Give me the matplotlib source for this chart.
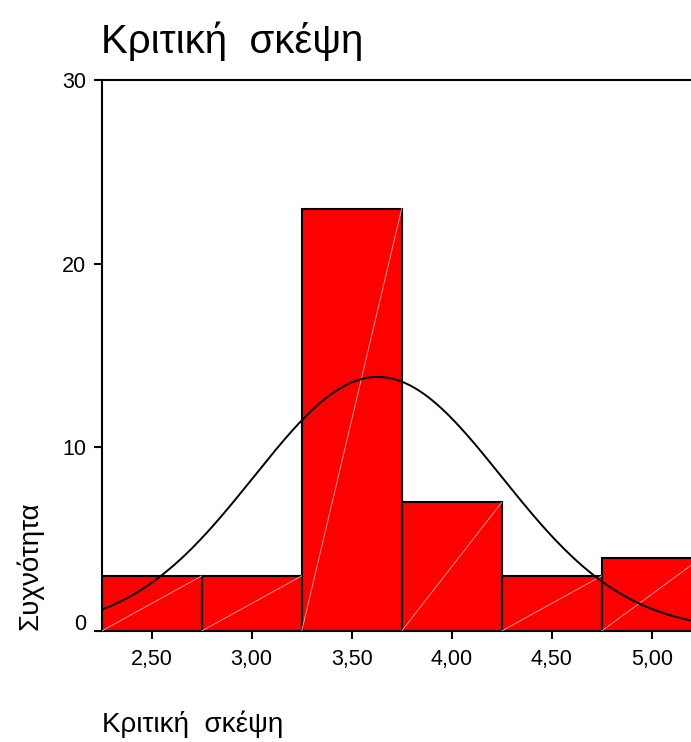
import numpy as np
import matplotlib
matplotlib.use("Agg")
import matplotlib.pyplot as plt
import matplotlib.transforms as mtransforms

plt.rcParams['font.family'] = ['Liberation Sans', 'DejaVu Sans']

# histogram of scores, bin width 0.5
bin_centers = [2.50, 3.00, 3.50, 4.00, 4.50, 5.00]
counts = [3, 3, 23, 7, 3, 4]
bin_width = 0.5

# normal curve parameters
mean_score = 3.63
std_score = 0.62
n_total = sum(counts)

x_ticks = [2.50, 3.00, 3.50, 4.00, 4.50, 5.00]
x_tick_labels = ["2,50", "3,00", "3,50", "4,00", "4,50", "5,00"]
y_ticks = [0, 10, 20, 30]

fig = plt.figure(figsize=(6.91, 7.42), dpi=100)
ax = fig.add_axes([0.1472, 0.1496, 0.8683, 0.7426])

ax.bar(bin_centers, counts, width=bin_width, color="#ff0000",
       edgecolor="black", linewidth=1.5, zorder=2)

# faint diagonal in each bar, corner to corner
for c, h in zip(bin_centers, counts):
    ax.plot([c - bin_width / 2, c + bin_width / 2], [0, h],
            color="#ffb0b0", linewidth=0.6, zorder=3)

xs = np.linspace(2.25, 5.25, 400)
ys = n_total * bin_width / (std_score * np.sqrt(2 * np.pi)) * \
    np.exp(-0.5 * ((xs - mean_score) / std_score) ** 2)
ax.plot(xs, ys, color="black", linewidth=1.4, zorder=4)

ax.set_xlim(2.25, 5.25)
ax.set_ylim(0, 30)
ax.set_xticks(x_ticks)
ax.set_xticklabels(x_tick_labels)
ax.set_yticks(y_ticks)

for side in ["left", "top", "bottom"]:
    ax.spines[side].set_linewidth(1.5)
ax.spines["right"].set_visible(False)

ax.tick_params(axis="both", direction="out", length=6, width=1.5, labelsize=15.5)
ax.tick_params(axis="x", pad=7)
ax.tick_params(axis="y", pad=5)

# nudge the zero label up a little
zero_label = ax.get_yticklabels()[0]
zero_label.set_transform(zero_label.get_transform() +
                         mtransforms.ScaledTranslation(0, 9 / 100, fig.dpi_scale_trans))

fig.text(0.146, 0.928, "Κριτική  σκέψη", fontsize=29, ha="left", va="baseline")
fig.text(0.147, 0.0135, "Κριτική  σκέψη", fontsize=20, ha="left", va="baseline")
fig.text(0.043, 0.238, "Συχνότητα", fontsize=20, rotation=90, ha="center", va="center")

fig.savefig("out.png", dpi=100)
